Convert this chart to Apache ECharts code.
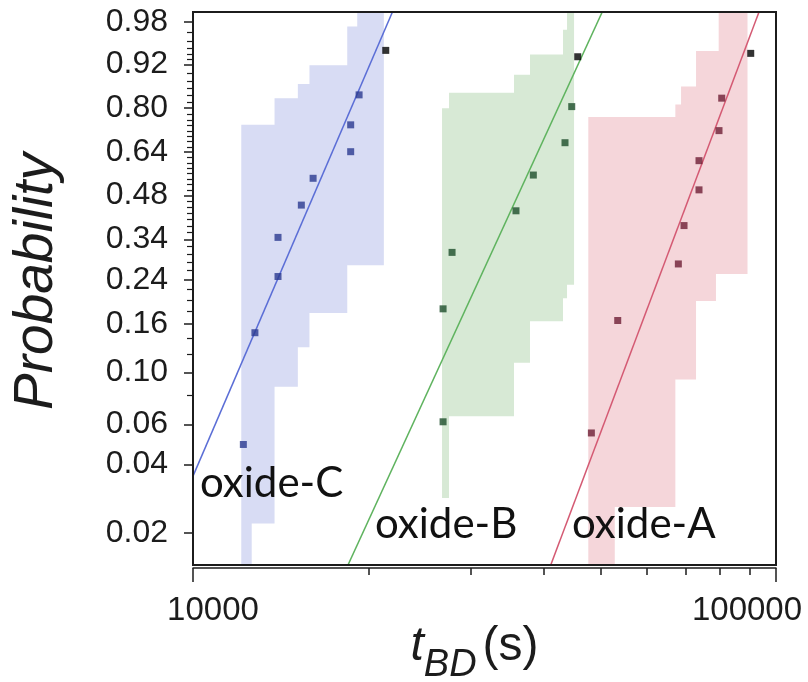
<!DOCTYPE html>
<html><head><meta charset="utf-8">
<script src="https://cdn.jsdelivr.net/npm/echarts@6/dist/echarts.min.js"></script>
<style>html,body{margin:0;padding:0;background:#fff}#c{width:808px;height:682px}</style>
</head><body><div id="c"></div>
<script>
// ---- tick labels / axis ranges ----
const probRange = [0.0144, 0.9869];
const probMajorTicks = [0.02,0.04,0.06,0.10,0.16,0.24,0.34,0.48,0.64,0.80,0.92,0.98];
const probMinorTicks = [0.08,0.12,0.14,0.18,0.20,0.22,0.26,0.28,0.30,0.32,0.36,0.38,0.40,0.42,0.44,0.46,
  0.50,0.52,0.54,0.56,0.58,0.60,0.62,0.66,0.68,0.70,0.72,0.74,0.76,0.78,0.82,0.84,0.86,0.88,0.90,
  0.93,0.94,0.95,0.96,0.97];
const timeRange = [10000, 100000];
const timeMajorTicks = [10000, 100000];
const timeMinorTicks = [20000,30000,40000,50000,60000,70000,80000,90000];

// ---- data points (t_BD in s, cumulative probability) ----
const oxideC_t = [12200, 12770, 13990, 13990, 15340, 16070, 18640, 18640, 19270, 21410];
const oxideC_F = [0.049, 0.147, 0.247, 0.346, 0.447, 0.542, 0.642, 0.742, 0.842, 0.946];
const oxideB_t = [26850, 26850, 27820, 35810, 38350, 43460, 44630, 45700];
const oxideB_F = [0.0615, 0.184, 0.305, 0.428, 0.554, 0.676, 0.805, 0.935];
const oxideA_t = [48230, 53520, 68000, 69540, 73780, 73780, 79840, 80700, 90500];
const oxideA_F = [0.055, 0.165, 0.276, 0.381, 0.500, 0.608, 0.721, 0.832, 0.941];

// ---- fit lines (two end points each) ----
const fitC_t = [10000, 22720]; const fitC_F = [0.0356, 0.995];
const fitB_t = [17290, 52150]; const fitB_F = [0.01, 0.995];
const fitA_t = [38960, 96250]; const fitA_F = [0.01, 0.995];

// ---- confidence bands: step edges t, lower/upper bound per interval ----
const bandC_t  = [12100, 12610, 13800, 15130, 15840, 18390, 19130, 21250];
const bandC_lo = [0.01, 0.022, 0.087, 0.128, 0.177, 0.273, 0.273];
const bandC_hi = [0.742, 0.742, 0.832, 0.873, 0.918, 0.976, 0.99];
const bandB_t  = [26740, 27490, 35530, 37850, 43120, 43810, 45040];
const bandB_lo = [0.0285, 0.065, 0.110, 0.164, 0.203, 0.2295];
const bandB_hi = [0.800, 0.848, 0.897, 0.939, 0.973, 0.99];
const bandA_t  = [47650, 52900, 67200, 68730, 72920, 78890, 79740, 89360];
const bandA_lo = [0.01, 0.026, 0.0936, 0.0936, 0.198, 0.2526, 0.2526];
const bandA_hi = [0.770, 0.770, 0.812, 0.866, 0.945, 0.945, 0.99];

// ---- helpers ----
const toW = p => Math.log(-Math.log(1 - p));      // Weibull probability scale
const lg = Math.log10;
const yMin = toW(probRange[0]), yMax = toW(probRange[1]);
const clampW = w => Math.max(yMin, Math.min(yMax, w));
const FONT = 'Liberation Sans';
const INK = '#1c1c1c';

function bandSeries(ts, lo, hi, color) {
  return {
    type: 'custom', coordinateSystem: 'cartesian2d', silent: true, z: 1,
    data: [[lg(ts[0]), clampW(toW(hi[0]))]],
    renderItem: function (params, api) {
      const P = (t, f) => api.coord([lg(t), clampW(toW(f))]);
      const n = lo.length, pts = [];
      for (let k = 0; k < n; k++) { pts.push(P(ts[k], hi[k])); pts.push(P(ts[k + 1], hi[k])); }
      for (let k = n - 1; k >= 0; k--) { pts.push(P(ts[k + 1], lo[k])); pts.push(P(ts[k], lo[k])); }
      return { type: 'polygon', shape: { points: pts }, style: { fill: color } };
    }
  };
}
function fitSeries(ts, fs, color) {
  return {
    type: 'line', z: 3, clip: true, symbol: 'none', showSymbol: false, silent: true,
    data: ts.map((t, i) => [lg(t), toW(fs[i])]),
    lineStyle: { color: color, width: 1.5 }
  };
}
function pointSeries(ts, fs, color) {
  return {
    type: 'scatter', symbol: 'rect', symbolSize: 7, z: 4, silent: true,
    data: ts.map((t, i) => ({ value: [lg(t), toW(fs[i])],
      itemStyle: { color: i === ts.length - 1 ? '#000000' : color } }))
  };
}

const chart = echarts.init(document.getElementById('c'));
chart.setOption({
  animation: false,
  backgroundColor: '#ffffff',
  grid: { left: 193, right: 32, top: 12, bottom: 117, show: true, z: 10,
          containLabel: false, outerBoundsMode: 'none',
          borderColor: INK, borderWidth: 2, backgroundColor: 'rgba(0,0,0,0)' },
  xAxis: [{
    type: 'value', min: lg(timeRange[0]), max: lg(timeRange[1]), offset: 3, position: 'bottom',
    splitLine: { show: false },
    axisLine: { show: true, onZero: false, lineStyle: { color: INK, width: 1.5 } },
    axisTick: { show: true, length: 14, lineStyle: { color: INK, width: 1.5 },
                customValues: timeMajorTicks.map(lg) },
    axisLabel: {
      customValues: timeMajorTicks.map(lg), margin: 26,
      formatter: function (v) {
        const t = Math.round(Math.pow(10, v));
        return (t === timeMajorTicks[0] ? '{l|' : '{r|') + t + '}';
      },
      rich: {
        l: { fontFamily: FONT, fontSize: 33, lineHeight: 33, color: INK, padding: [0, 0, 0, 40] },
        r: { fontFamily: FONT, fontSize: 33, lineHeight: 33, color: INK, padding: [0, 58, 0, 0] }
      }
    },
    name: '{t|t}{s|BD}{p|(s)}', nameLocation: 'middle', nameGap: 55, nameMoveOverlap: false,
    nameTextStyle: {
      padding: [0, 20, 0, 0],
      rich: {
        t: { fontFamily: FONT, fontSize: 48, lineHeight: 48, fontStyle: 'italic', color: INK },
        s: { fontFamily: FONT, fontSize: 38, lineHeight: 38, fontStyle: 'italic', color: INK, padding: [36, 0, 0, 0] },
        p: { fontFamily: FONT, fontSize: 48, lineHeight: 48, color: INK, padding: [0, 0, 0, 6] }
      }
    }
  }, {
    type: 'value', min: lg(timeRange[0]), max: lg(timeRange[1]), offset: 3, position: 'bottom',
    splitLine: { show: false }, axisLine: { show: false, onZero: false }, axisLabel: { show: false },
    axisTick: { show: true, length: 7, lineStyle: { color: INK, width: 1.5 },
                customValues: timeMinorTicks.map(lg) }
  }],
  yAxis: [{
    type: 'value', min: yMin, max: yMax, position: 'left',
    splitLine: { show: false },
    axisLine: { show: true, onZero: false, lineStyle: { color: INK, width: 1.5 } },
    axisTick: { show: true, length: 9, lineStyle: { color: INK, width: 1.5 },
                customValues: probMajorTicks.map(toW) },
    axisLabel: {
      customValues: probMajorTicks.map(toW), margin: 25,
      fontFamily: FONT, fontSize: 32, color: INK,
      formatter: v => (1 - Math.exp(-Math.exp(v))).toFixed(2)
    },
    name: 'Probability', nameLocation: 'middle', nameGap: 129, nameMoveOverlap: false,
    nameTextStyle: { fontFamily: FONT, fontSize: 55, fontStyle: 'italic', color: INK, padding: [0, 0, 0, 14] }
  }, {
    type: 'value', min: yMin, max: yMax, position: 'left',
    splitLine: { show: false }, axisLine: { show: false, onZero: false }, axisLabel: { show: false },
    axisTick: { show: true, length: 6, lineStyle: { color: INK, width: 1.2 },
                customValues: probMinorTicks.map(toW) }
  }],
  graphic: [
    { type: 'text', left: 200, top: 462, z: 20, style: { text: 'oxide-C', font: '42px Lato', fill: '#111' } },
    { type: 'text', left: 375, top: 503, z: 20, style: { text: 'oxide-B', font: '42px Lato', fill: '#111' } },
    { type: 'text', left: 572, top: 503, z: 20, style: { text: 'oxide-A', font: '42px Lato', fill: '#111' } }
  ],
  series: [
    bandSeries(bandC_t, bandC_lo, bandC_hi, '#d8dcf4'),
    bandSeries(bandB_t, bandB_lo, bandB_hi, '#d7e9d5'),
    bandSeries(bandA_t, bandA_lo, bandA_hi, '#f5d6da'),
    fitSeries(fitC_t, fitC_F, '#5b6ed6'),
    fitSeries(fitB_t, fitB_F, '#5fb35f'),
    fitSeries(fitA_t, fitA_F, '#d45a73'),
    pointSeries(oxideC_t, oxideC_F, '#2b3990'),
    pointSeries(oxideB_t, oxideB_F, '#1d4d2b'),
    pointSeries(oxideA_t, oxideA_F, '#6e1e34')
  ]
});
</script></body></html>
